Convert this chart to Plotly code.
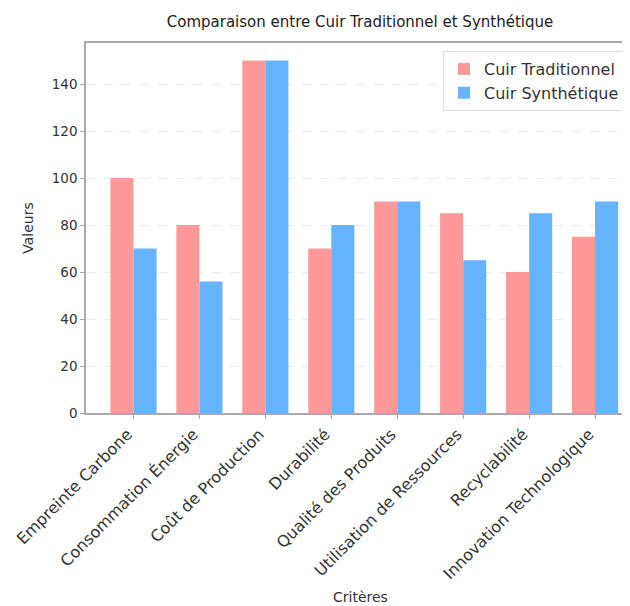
import plotly.graph_objects as go

categories = ["Empreinte Carbone", "Consommation Énergie", "Coût de Production", "Durabilité",
              "Qualité des Produits", "Utilisation de Ressources", "Recyclabilité", "Innovation Technologique"]
traditionnel = [100, 80, 150, 70, 90, 85, 60, 75]
synthetique = [70, 56, 150, 80, 90, 65, 85, 90]
y_ticks = [0, 20, 40, 60, 80, 100, 120, 140]

FONT = "DejaVu Sans"
W, H = 622, 598  # page body has an 8px margin
L, T, PW, PH = 78, 35, 544, 370
CX = 352  # horizontal centre used by the title and the x-axis label
fig = go.Figure()
fig.add_trace(go.Bar(x=categories, y=traditionnel, name="Cuir Traditionnel",
                     marker=dict(color="#ff9999", line=dict(width=0))))
fig.add_trace(go.Bar(x=categories, y=synthetique, name="Cuir Synthétique",
                     marker=dict(color="#66b3ff", line=dict(width=0))))

fig.update_layout(
    width=W, height=H,
    margin=dict(l=L, r=W - L - PW, t=T, b=H - T - PH, autoexpand=False),
    paper_bgcolor="white", plot_bgcolor="white",
    barmode="group", bargap=0.3, bargroupgap=0,
    font=dict(family=FONT, size=12, color="#333333"),
    title=dict(text="Comparaison entre Cuir Traditionnel et Synthétique",
               x=CX/W, xanchor="center", y=1-14/H, yanchor="middle",
               font=dict(family=FONT, size=15, color="#222222")),
    legend=dict(x=(435-L)/PW, xanchor="left", y=1-(51-43)/PH, yanchor="top",
                bgcolor="rgba(255,255,255,0.85)", bordercolor="#dddddd", borderwidth=1,
                font=dict(family=FONT, size=16, color="#333333"),
                tracegroupgap=0),
    xaxis=dict(range=[-0.72, 7.53], tickangle=-45, showline=True, linecolor="#aaaaaa",
               linewidth=1.5, mirror=True, ticks="outside", ticklen=4, tickcolor="#aaaaaa",
               automargin=False, ticklabelshift=-6,
               tickfont=dict(family=FONT, size=16, color="#333333")),
    yaxis=dict(range=[0, 157.5], tickvals=y_ticks, showline=True, linecolor="#aaaaaa",
               linewidth=1.5, mirror=True, ticks="outside", ticklen=4, tickcolor="#aaaaaa",
               showgrid=True, gridcolor="#ebebeb", griddash="dash", gridwidth=1,
               zeroline=False, automargin=False,
               tickfont=dict(family=FONT, size=13.5, color="#333333"),
               title=dict(text="Valeurs", font=dict(family=FONT, size=14, color="#333333"))),
    annotations=[dict(text="Critères", xref="paper", yref="paper",
                      x=(CX-L)/PW, y=-(589-405)/PH, xanchor="center", yanchor="middle",
                      showarrow=False, font=dict(family=FONT, size=14, color="#333333"))],
)

fig.write_html("out.html")
